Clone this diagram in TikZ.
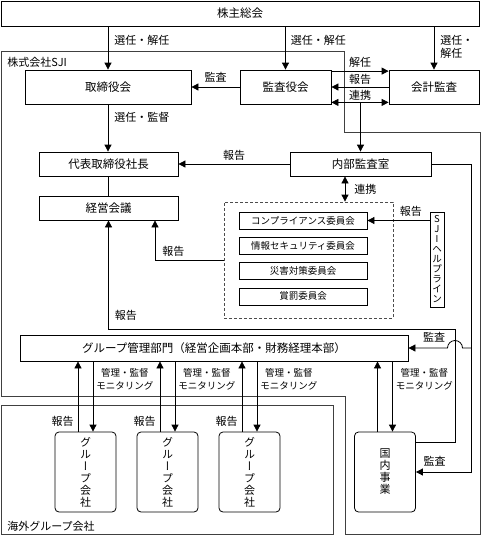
\documentclass[tikz,border=0pt]{standalone}
\usepackage{fontspec}
\setmainfont{Noto Sans CJK JP}
\newfontfamily\tatefont[RawFeature=+vert]{Noto Sans CJK JP}
\usetikzlibrary{arrows.meta}

\begin{document}
\begin{tikzpicture}[->, >={Triangle[length=7pt,width=7pt]}, x=1pt, y=-1pt, thick, node distance=25.3pt]
    \tikzstyle{caja}=[draw=black, text=black, inner sep=0pt, font=\fontsize{11.5}{13}\selectfont]
    \tikzstyle{redonda}=[caja, rounded corners=4pt, minimum width=61pt, minimum height=80pt, align=center, font=\tatefont\fontsize{11}{12}\selectfont]
    \tikzstyle{comite}=[caja, minimum width=128pt, minimum height=17pt, font=\fontsize{9.5}{11}\selectfont]
    \tikzstyle{etq}=[inner sep=0pt, text=black, font=\fontsize{11}{13}\selectfont]
    \tikzstyle{etqp}=[etq, align=center, font=\fontsize{9.5}{13}\selectfont]
    \useasboundingbox (0,0) rectangle (481,536);

    % Marcos de las empresas
    \draw[-, black!75] (1,51) -- (344,51) -- (344,132) -- (480,132) -- (480,534) -- (345,534) -- (345,396) -- (1,396) -- cycle;
    \node[etq, anchor=west] (sji) at (7,62) {株式会社SJI};
    \draw[-, black!75] (1,405) rectangle (333,534);
    \node[etq, anchor=west] (kaigai) at (7,526) {海外グループ会社};

    % Junta general
    \node[caja, minimum width=478pt, minimum height=25pt] (sokai) at (240,13.5) {株主総会};

    % Organos de la empresa
    \node[caja, minimum width=166pt, minimum height=34pt] (torishimari) at (108,87)    {取締役会};
    \node[caja, minimum width=91pt,  minimum height=34pt] (kansayaku)   at (285.5,87)  {監査役会};
    \node[caja, minimum width=90pt,  minimum height=34pt] (kaikei)      at (434,87)    {会計監査};
    \node[caja, minimum width=139pt, minimum height=24pt] (shacho)      at (108.5,164) {代表取締役社長};
    \node[caja, minimum width=139pt, minimum height=24pt] (keiei)       at (108.5,208) {経営会議};
    \node[caja, minimum width=141pt, minimum height=24pt] (naibu)       at (360.5,164) {内部監査室};

    % Comites
    \node[draw=black!70, densely dashed, minimum width=169pt, minimum height=116pt, inner sep=0pt] (iinkai) at (308.5,260) {};
    \node[comite] (comp)                        at (303,220.5) {コンプライアンス委員会};
    \node[comite] (joho)     [below of=comp]                   {情報セキュリティ委員会};
    \node[comite] (saigai)   [below of=joho]                   {災害対策委員会};
    \node[comite] (shobatsu) [below of=saigai]                 {賞罰委員会};
    \node[caja, minimum width=14pt, minimum height=95pt, align=center, font=\fontsize{9.5}{10}\selectfont] (helpline) at (437,259.5) {S\\J\\I\\ヘ\\ル\\プ\\ラ\\イ\\ン};

    % Grupo y filiales
    \node[caja, minimum width=388pt, minimum height=26pt] (grupo) at (214,348) {グループ管理部門（経営企画本部・財務経理本部）};
    \node[redonda] (g1)      at (85.5,472)  {グ\\ル\\ー\\プ\\会\\社};
    \node[redonda] (g2)      at (167.5,472) {グ\\ル\\ー\\プ\\会\\社};
    \node[redonda] (g3)      at (249.5,472) {グ\\ル\\ー\\プ\\会\\社};
    \node[redonda] (kokunai) at (385,472)   {国\\内\\事\\業};

    % Nombramientos
    \draw (sokai.south -| torishimari.north) -- node[etq, right=6pt, pos=0.32] {選任・解任} (torishimari.north);
    \draw (sokai.south -| kansayaku.north)   -- node[etq, right=5pt, pos=0.32] {選任・解任} (kansayaku.north);
    \draw (sokai.south -| kaikei.north)      -- node[etq, right=6pt, pos=0.48, align=left] {選任・\\解任} (kaikei.north);
    \draw (torishimari.south) -- node[etq, right=6pt, pos=0.27] {選任・監督} (torishimari.south |- shacho.north);
    \draw[-] (shacho) -- (keiei);

    % Auditoria
    \draw (kansayaku.west) -- node[etq, above=4pt] {監査} (torishimari.east);
    \draw ([yshift=-1.5pt]kansayaku.north east) -- node[etq, above=3pt] {解任} ([yshift=-1.5pt]kaikei.north west);
    \draw (kaikei.west) -- node[etq, above=2pt] {報告} (kansayaku.east);
    \coordinate (renkei) at ([yshift=2pt]kansayaku.south east);
    \draw[<->] (renkei) -- node[etq, above=2pt] {連携} (renkei -| kaikei.west);
    \draw (renkei -| naibu.north) -- (naibu.north);
    \draw (naibu.west) -- node[etq, above=3pt] {報告} (shacho.east);
    \draw[<->] ([xshift=-15.5pt]naibu.south) -- node[etq, right=9pt] {連携} ([xshift=-15.5pt]naibu.south |- iinkai.north);
    \draw (comp.east -| helpline.west) -- node[etq, above=4pt, pos=0.3] {報告} (comp.east);
    \draw (iinkai.west) -| node[etq, above=3pt, pos=0.366] {報告} ([xshift=46.5pt]keiei.south);

    % Lineas de informe y de auditoria interna
    \coordinate (subida) at (455,329);
    \coordinate (carril) at (471,164);
    \draw ([yshift=-11pt]kokunai.north east) -| (subida) -| node[etq, right=6pt, pos=0.564] {報告} (keiei.south);
    \draw (naibu.east) -- (carril) |- node[etq, above=5pt, pos=0.83] {監査} (kokunai.east);
    \draw (grupo.east -| carril) -- ([xshift=7.5pt]grupo.east -| subida) arc[start angle=0, end angle=180, radius=7.5pt] -- node[etq, above=5pt, pos=0.34] {監査} (grupo.east);

    % Supervision de las filiales
    \foreach \g in {g1,g2,g3}{
        \draw ([xshift=-7.5pt]\g.north) -- node[etq, left=4pt, pos=0.14] {報告} ([xshift=-7.5pt]\g.north |- grupo.south);
    }
    \draw ([xshift=-7.5pt]kokunai.north) -- ([xshift=-7.5pt]kokunai.north |- grupo.south);
    \foreach \g in {g1,g2,g3,kokunai}{
        \draw ([xshift=7.5pt]\g.north |- grupo.south) -- node[etqp, right=3pt, pos=0.25] {管理・監督\\モニタリング} ([xshift=7.5pt]\g.north);
    }
\end{tikzpicture}
\end{document}
